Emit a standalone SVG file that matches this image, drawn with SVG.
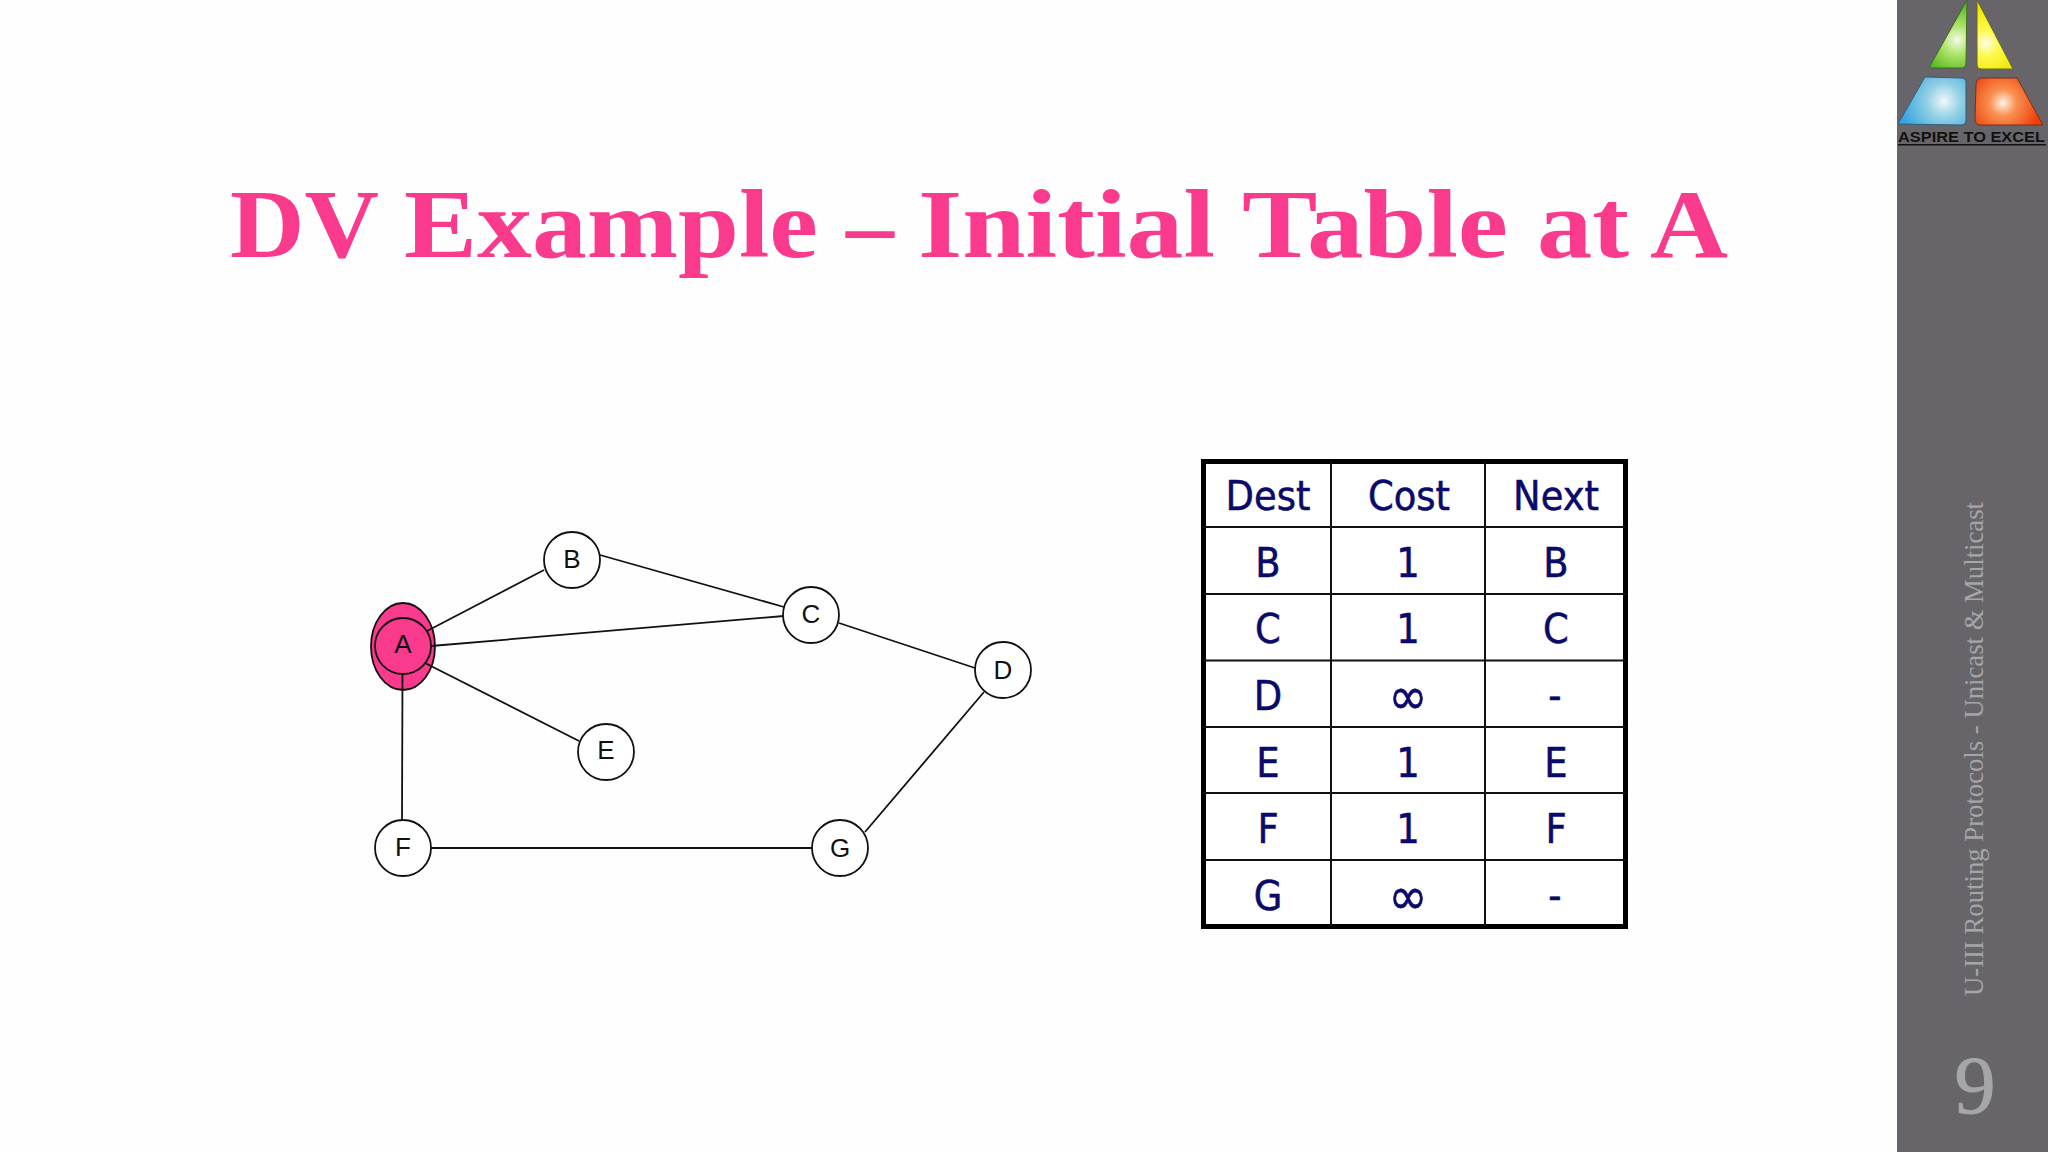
<svg xmlns="http://www.w3.org/2000/svg" width="2048" height="1152" viewBox="0 0 2048 1152">
<style>
.n{fill:#fff;stroke:#111;stroke-width:1.8}
.l{font-family:"Liberation Sans",Arial,sans-serif;font-size:26px;fill:#111;text-anchor:middle}
.c{stroke:#111;stroke-width:1.8;fill:none}
.t{font-family:"DejaVu Sans Condensed","DejaVu Sans",sans-serif;font-size:41px;fill:#0a0a6a;stroke:#0a0a6a;stroke-width:.5;text-anchor:middle}
.i{font-size:52px;stroke-width:.6}
.g{stroke:#111;stroke-width:2;fill:none}
</style>
<defs>
<radialGradient id="gg" gradientUnits="userSpaceOnUse" cx="1957" cy="40" r="36"><stop offset="0" stop-color="#f4fae8"/><stop offset=".4" stop-color="#aee46a"/><stop offset="1" stop-color="#56b81e"/></radialGradient>
<radialGradient id="gy" gradientUnits="userSpaceOnUse" cx="1986" cy="43" r="36"><stop offset="0" stop-color="#fefee8"/><stop offset=".35" stop-color="#fefa50"/><stop offset="1" stop-color="#f0e600"/></radialGradient>
<radialGradient id="gb" gradientUnits="userSpaceOnUse" cx="1944" cy="101" r="44"><stop offset="0" stop-color="#f0f8fa"/><stop offset=".4" stop-color="#90cfe4"/><stop offset="1" stop-color="#35a4e0"/></radialGradient>
<radialGradient id="gr" gradientUnits="userSpaceOnUse" cx="2003" cy="103" r="38"><stop offset="0" stop-color="#fff2e8"/><stop offset=".35" stop-color="#fa9050"/><stop offset="1" stop-color="#ec3e08"/></radialGradient>
</defs>
<rect width="2048" height="1152" fill="#fefefe"/>
<g id="sidebar">
<rect x="1897" width="151" height="1152" fill="#676569"/>
<path d="M1967 0L1930 66Q1929 68 1932 68L1962 68Q1966 68 1966 64Z" fill="url(#gg)" stroke="#3f6a22" stroke-width="1"/>
<path d="M1977 0L2013 69L1981 69Q1977 69 1977 65Z" fill="url(#gy)" stroke="#6a6a20" stroke-width="1"/>
<path d="M1925 77L1961 78Q1966 78 1966 83L1966 120Q1966 125 1961 125L1898 124Z" fill="url(#gb)" stroke="#2f5f80" stroke-width="1"/>
<path d="M1982 78L2017 78L2043 125L1981 125Q1975 125 1975 119L1976 84Q1977 78 1982 78Z" fill="url(#gr)" stroke="#7a3018" stroke-width="1"/>
<text x="1971.500" y="141.500" font-family="Liberation Sans,Arial,sans-serif" font-weight="700" font-size="14" fill="#111" text-anchor="middle" textLength="147" lengthAdjust="spacingAndGlyphs">ASPIRE TO EXCEL</text>
<rect x="1898" y="144" width="148" height="1.500" fill="#111"/>
<text transform="translate(1983 996) rotate(-90)" font-family="Liberation Serif,serif" font-size="27" fill="#a6a6a8" textLength="494" lengthAdjust="spacingAndGlyphs">U-III Routing Protocols - Unicast &amp; Multicast</text>
<text x="1975" y="1113" font-family="Liberation Serif,serif" font-size="82" fill="#a6a6a8" stroke="#a6a6a8" stroke-width="1" text-anchor="middle">9</text>
</g>
<text id="title" y="257" font-family="Liberation Serif,serif" font-weight="700" font-size="98" fill="#fa3a8c"><tspan x="230" textLength="147" lengthAdjust="spacingAndGlyphs">DV</tspan> <tspan x="404" textLength="414" lengthAdjust="spacingAndGlyphs">Example</tspan> <tspan x="846" textLength="48" lengthAdjust="spacingAndGlyphs">–</tspan> <tspan x="918" textLength="297" lengthAdjust="spacingAndGlyphs">Initial</tspan> <tspan x="1242" textLength="266" lengthAdjust="spacingAndGlyphs">Table</tspan> <tspan x="1537" textLength="92" lengthAdjust="spacingAndGlyphs">at</tspan> <tspan x="1650" textLength="78" lengthAdjust="spacingAndGlyphs">A</tspan></text>
<g id="node-A"><ellipse cx="403" cy="646.500" rx="32" ry="43.500" fill="#fa3a8c" stroke="#111" stroke-width="1.800"/><circle cx="403" cy="646" r="28" fill="#fa3a8c" stroke="#111" stroke-width="1.800"/><text class="l" x="403" y="653">A</text></g>
<g id="connectors">
<line class="c" x1="427" y1="631" x2="544" y2="570"/>
<line class="c" x1="431" y1="646" x2="784" y2="616"/>
<line class="c" x1="425" y1="663" x2="579" y2="741"/>
<line class="c" x1="402.500" y1="674" x2="402" y2="820"/>
<line class="c" x1="600" y1="555" x2="784" y2="607"/>
<line class="c" x1="839" y1="623" x2="975" y2="668"/>
<line class="c" x1="984" y1="692" x2="865" y2="832"/>
<line class="c" x1="431" y1="848" x2="812" y2="848"/>
</g>
<g id="node-B"><circle class="n" cx="572" cy="560" r="28"/><text class="l" x="572" y="568">B</text></g>
<g id="node-C"><circle class="n" cx="811" cy="615" r="28"/><text class="l" x="811" y="623">C</text></g>
<g id="node-D"><circle class="n" cx="1003" cy="670" r="28"/><text class="l" x="1003" y="679">D</text></g>
<g id="node-E"><circle class="n" cx="606" cy="752" r="28"/><text class="l" x="606" y="759">E</text></g>
<g id="node-F"><circle class="n" cx="403" cy="848" r="28"/><text class="l" x="403" y="856">F</text></g>
<g id="node-G"><circle class="n" cx="840" cy="848" r="28"/><text class="l" x="840" y="857">G</text></g>
<g id="table">
<rect x="1203.500" y="461.500" width="422" height="465" fill="#fff" stroke="#000" stroke-width="5"/>
<path class="g" d="M1331 461V926M1485 461V926M1203 527H1626M1203 594H1626M1203 660.500H1626M1203 727H1626M1203 793H1626M1203 860H1626"/>
<text class="t" x="1268" y="510">Dest</text><text class="t" x="1409" y="510">Cost</text><text class="t" x="1556" y="510">Next</text>
<text class="t" x="1268" y="577">B</text><text class="t" x="1408" y="577">1</text><text class="t" x="1556" y="577">B</text>
<text class="t" x="1268" y="643">C</text><text class="t" x="1408" y="643">1</text><text class="t" x="1556" y="643">C</text>
<text class="t" x="1268" y="710">D</text><text class="t i" x="1408" y="714">∞</text><text class="t" x="1555" y="710">-</text>
<text class="t" x="1268" y="777">E</text><text class="t" x="1408" y="777">1</text><text class="t" x="1556" y="777">E</text>
<text class="t" x="1268" y="843">F</text><text class="t" x="1408" y="843">1</text><text class="t" x="1556" y="843">F</text>
<text class="t" x="1268" y="910">G</text><text class="t i" x="1408" y="914">∞</text><text class="t" x="1555" y="910">-</text>
</g>
</svg>
